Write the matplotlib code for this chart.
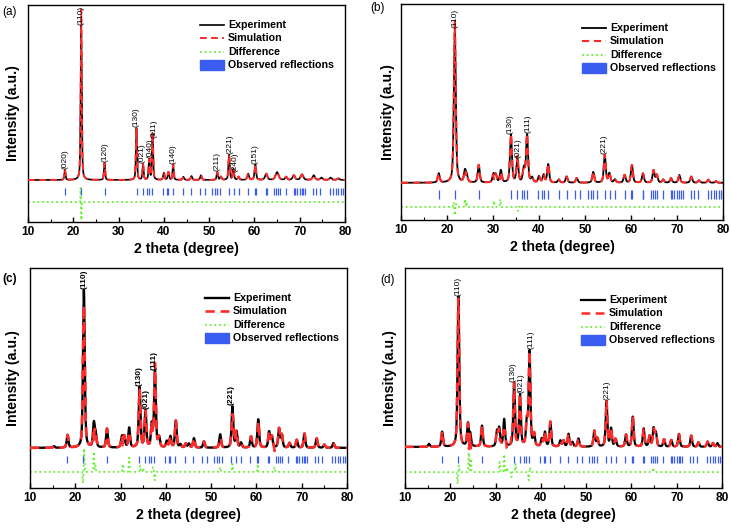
import numpy as np
import matplotlib
matplotlib.use("Agg")
import matplotlib.pyplot as plt
from matplotlib.patches import Rectangle

plt.rcParams['font.family'] = ['Liberation Sans', 'DejaVu Sans']

# ---------------- data ----------------
# Observed reflection positions (2 theta, degree) - same phase in all panels
REFL = [18.2, 21.8, 26.9, 34.0, 35.3, 36.2, 36.8, 37.4, 39.8, 40.6, 41.0, 42.0,
        44.3, 46.0, 47.9, 49.0, 50.7, 51.2, 51.8, 52.5, 54.4, 55.4, 56.6, 58.6,
        60.1, 60.3, 62.5, 62.7, 64.3, 64.8, 65.2, 65.6, 66.9, 68.7, 69.0, 69.3,
        70.0, 70.4, 70.8, 71.2, 73.0, 73.7, 74.5, 76.7, 77.4, 78.0, 78.5, 79.1, 79.6]

# Panel (a)
A_POS = [18.15, 21.75, 26.9, 33.95, 35.4, 36.75, 37.5, 40.0, 41.0, 42.05, 44.3, 46.1,
         48.2, 51.8, 52.6, 54.4, 55.35, 56.5, 58.6, 60.2, 62.6, 65.0, 67.0, 68.7,
         70.5, 73.1, 74.8, 76.8, 78.5]
A_HT = [6.5, 100, 11, 33.5, 10, 13, 30, 4.5, 5, 10, 2, 2.5, 3, 5, 2, 16, 7, 2, 4,
        10, 4, 5, 2, 3, 3.5, 3, 1.5, 1.5, 1]
A_FW = [0.3, 0.3, 0.3, 0.3, 0.3, 0.3, 0.3, 0.35, 0.35, 0.3, 0.4, 0.4, 0.4, 0.35, 0.4,
        0.35, 0.35, 0.4, 0.45, 0.4, 0.6, 0.8, 0.5, 0.6, 0.7, 0.6, 0.6, 0.6, 0.6]
A_DPOS = [21.6, 21.78]
A_DAMP = [9, -11.6]
A_DFW = [0.1, 0.1]
A_LAB = ['(020)', '(110)', '(120)', '(130)', '(021)', '(040)', '(111)', '(140)',
         '(211)', '(221)', '(240)', '(151)']
A_LPOS = [18.15, 21.75, 26.9, 33.95, 35.15, 36.85, 37.85, 42.05, 51.8, 54.55, 55.8, 60.2]

# Panel (b)
B_POS = [18.2, 21.7, 23.9, 24.3, 26.9, 30.1, 30.6, 31.7, 33.9, 35.3, 36.7, 37.4, 38.5,
         40.0, 41.0, 42.0, 44.3, 46.0, 48.2, 51.8, 54.3, 55.3, 56.5, 58.6, 60.2, 62.6,
         64.9, 65.6, 67.0, 68.7, 70.5, 73.1, 74.8, 76.8, 78.5]
B_HT = [6, 100, 7.5, 4, 11.5, 5.5, 5, 8, 31, 15, 9, 31, 3, 4, 5, 12, 2, 4, 3, 7, 18,
        6, 2, 5, 11.5, 6, 8, 5, 2, 3, 5, 4, 1.5, 2, 1]
B_FW = [0.5] * len(B_POS)
B_DPOS = [21.45, 21.7, 21.95, 23.9, 24.25, 30.2, 31.6, 35.4, 36.0]
B_DAMP = [3, -5.4, 2, 5, 3, 4, 5, -2.6, -1.2]
B_DFW = [0.2] * len(B_DPOS)
B_LAB = ['(110)', '(130)', '(021)', '(111)', '(221)']
B_LPOS = [21.7, 33.8, 35.4, 37.7, 54.2]

# Panel (c)
C_POS = [15.3, 18.3, 21.9, 24.1, 24.5, 27.0, 30.3, 30.8, 31.9, 34.2, 35.5, 36.9, 37.6,
         38.5, 40.2, 41.0, 42.2, 43.2, 44.4, 45.1, 46.2, 48.4, 52.0, 54.7, 55.6, 56.6,
         58.8, 60.4, 62.8, 63.4, 65.0, 65.6, 67.3, 68.9, 70.6, 73.3, 75.0, 77.0]
C_HT = [1, 8, 100, 15, 8, 12, 7, 7, 12.5, 38, 23, 14, 48, 6, 4, 7, 17, 2, 2.5, 2.5, 6,
        4, 8.5, 26, 10, 3, 7, 18, 10, 7, 12, 8, 3, 5, 9, 6, 2, 3]
C_FW = [0.45] * len(C_POS)
C_DPOS = [21.7, 21.95, 24.1, 24.45, 30.5, 31.9, 34.3, 35.0, 37.2, 37.55, 52.0, 54.7,
          60.3, 64.0]
C_DAMP = [-7.4, 15, 12.7, 4, 5, 9, 4, 2.5, 3, -5.3, 3, 5, 5, 3]
C_DFW = [0.2] * len(C_DPOS)
C_LAB = ['(110)', '(130)', '(021)', '(111)', '(221)']
C_LPOS = [21.9, 34.2, 35.6, 37.5, 54.5]

# Panel (d)
D_POS = [15.3, 18.2, 21.8, 23.9, 24.4, 27.0, 30.3, 30.8, 31.9, 34.1, 35.4, 36.9, 37.5,
         38.5, 40.2, 40.9, 42.1, 44.3, 45.0, 46.1, 47.0, 48.3, 51.8, 52.5, 54.5, 55.5,
         56.5, 58.8, 60.3, 62.7, 64.0, 64.9, 65.4, 67.2, 68.8, 70.5, 73.2, 74.8, 76.8,
         78.0, 79.0]
D_HT = [2, 10, 100, 15, 8, 14, 10, 12, 18, 42, 34, 16, 63, 8, 5, 9.5, 16.5, 4, 4, 8.5,
        3, 5.5, 10.5, 5.5, 30, 12, 5, 8, 20, 12, 7, 12, 9, 5, 4.5, 8.5, 7.5, 3, 3.5,
        2.5, 2.5]
D_FW = [0.45] * len(D_POS)
D_DPOS = [21.6, 21.9, 24.1, 24.5, 30.9, 31.9, 32.5, 33.5, 34.4, 37.3, 37.6, 64.8]
D_DAMP = [-7.8, 4.4, 12.9, 9, 6.7, 11.8, 3, -3.3, 5.5, -5.5, 3, 3]
D_DFW = [0.2] * len(D_DPOS)
D_LAB = ['(110)', '(130)', '(021)', '(111)', '(221)']
D_LPOS = [21.8, 33.95, 35.6, 37.8, 54.6]

X_TICKS = [10, 20, 30, 40, 50, 60, 70, 80]
LEGEND_NAMES = ['Experiment', 'Simulation', 'Difference', 'Observed reflections']

# ---------------- helpers ----------------
x = np.linspace(10, 80, 3501)


def profile(pos, ht, fw, eta=0.5):
    y = np.zeros_like(x)
    for p, h, w in zip(pos, ht, fw):
        g = np.exp(-4 * np.log(2) * (x - p) ** 2 / w ** 2)
        lo = 1.0 / (1 + 4 * (x - p) ** 2 / w ** 2)
        y += h * (eta * lo + (1 - eta) * g)
    return y


def gauss(pos, amp, fw):
    y = np.zeros_like(x)
    for p, a, w in zip(pos, amp, fw):
        y += a * np.exp(-4 * np.log(2) * (x - p) ** 2 / w ** 2)
    return y


W, H = 731, 529
fig = plt.figure(figsize=(W / 100, H / 100), dpi=100)

GREEN = '#66ee33'
BLUE = '#3a5cf0'
RED = '#ff2a2a'

panels = [
    # axes box in px (left, top, right, bottom), data, ylim, refl band, diff offset,
    # letter, letter pos, bold, ylabelpad, legend (handle x, first row y), line widths
    ((28, 5, 345, 222),
     (A_POS, A_HT, A_FW, A_DPOS, A_DAMP, A_DFW, A_LAB, A_LPOS),
     (-27.1, 112.9), (-5.2, -9.7), -14.2, '(a)', (2, 12), False, 6,
     (200, 25), (1.2, 1.4)),
    ((401, 4, 723, 220),
     (B_POS, B_HT, B_FW, B_DPOS, B_DAMP, B_DFW, B_LAB, B_LPOS),
     (-24.2, 116.4), (-4.7, -10.6), -15.7, '(b)', (370, 8), False, 4,
     (582, 28), (1.3, 1.5)),
    ((30, 268, 347, 488),
     (C_POS, C_HT, C_FW, C_DPOS, C_DAMP, C_DFW, C_LAB, C_LPOS),
     (-25.4, 114.0), (-5.3, -9.7), -15.2, '(c)', (2, 279), True, 7,
     (205, 298), (1.7, 1.9)),
    ((405, 268, 722, 488),
     (D_POS, D_HT, D_FW, D_DPOS, D_DAMP, D_DFW, D_LAB, D_LPOS),
     (-27.3, 119.1), (-6.0, -10.9), -16.7, '(d)', (380, 280), False, 6,
     (581, 300), (1.6, 1.8)),
]

for (box, data, ylim, band, doff, letter, lpos, bold, ypad, leg, lws) in panels:
    L, T, R, B = box
    pos, ht, fw, dpos, damp, dfw, labs, lposx = data
    ax = fig.add_axes([L / W, 1 - B / H, (R - L) / W, (B - T) / H])
    exp = profile(pos, ht, fw)
    diff = gauss(dpos, damp, dfw)
    sim = exp - diff
    dash = (0, (3.5, 2.2))
    dots = (0, (1, 1.6))
    ax.plot(x, exp, color='black', lw=lws[0], zorder=3)
    ax.plot(x, sim, color=RED, lw=lws[1], ls=dash, zorder=4)
    ax.plot(x, doff + diff, color=GREEN, lw=1.3, ls=dots, zorder=2)
    ax.vlines(REFL, band[1], band[0], color=BLUE, lw=0.9, zorder=2)
    for lab, lx in zip(labs, lposx):
        win = np.abs(x - lx) <= 0.3
        yv = exp[win].max()
        ax.text(lx, yv + 0.5, lab, rotation=90, ha='center', va='bottom',
                fontsize=6.0, fontweight='bold' if bold else 'normal', zorder=5)
    ax.set_xlim(10, 80)
    ax.set_ylim(*ylim)
    ax.set_xticks(X_TICKS)
    ax.set_xticks(np.arange(15, 80, 10), minor=True)
    ax.set_yticks([])
    ax.tick_params(axis='x', which='major', direction='in', length=3.5, width=1,
                   labelsize=8.6, pad=3, top=False)
    ax.tick_params(axis='x', which='minor', direction='in', length=2, width=0.8,
                   top=False)
    for lbl in ax.get_xticklabels():
        lbl.set_fontweight('bold')
    for s in ax.spines.values():
        s.set_linewidth(1.0)
    ax.set_xlabel('2 theta (degree)', fontsize=10.2, fontweight='bold', labelpad=3)
    ax.set_ylabel('Intensity (a.u.)', fontsize=10.2, fontweight='bold', labelpad=ypad)

    # manual legend (pixel layout -> axes fraction)
    def fx(px):
        return (px - L) / (R - L)

    def fy(py):
        return (B - py) / (B - T)

    hx0, ry0 = leg
    hx1 = hx0 + 24
    tx = hx0 + 28
    step = 13.3
    styles = [dict(color='black', lw=lws[0]),
              dict(color=RED, lw=lws[1], ls=dash),
              dict(color=GREEN, lw=1.3, ls=dots)]
    for i, name in enumerate(LEGEND_NAMES):
        yy = ry0 + i * step
        if i < 3:
            ax.plot([fx(hx0), fx(hx1)], [fy(yy), fy(yy)], transform=ax.transAxes,
                    clip_on=False, **styles[i])
        else:
            ax.add_patch(Rectangle((fx(hx0), fy(yy + 5)), fx(hx1) - fx(hx0),
                                   fy(yy - 5) - fy(yy + 5), transform=ax.transAxes,
                                   facecolor=BLUE, edgecolor=BLUE, clip_on=False))
        ax.text(fx(tx), fy(yy), name, transform=ax.transAxes, ha='left',
                va='center', fontsize=7.7, fontweight='bold')

    fig.text(lpos[0] / W, 1 - lpos[1] / H, letter, fontsize=8.5,
             fontweight='bold' if bold else 'normal', ha='left', va='center')

fig.savefig('out.png', dpi=100)
